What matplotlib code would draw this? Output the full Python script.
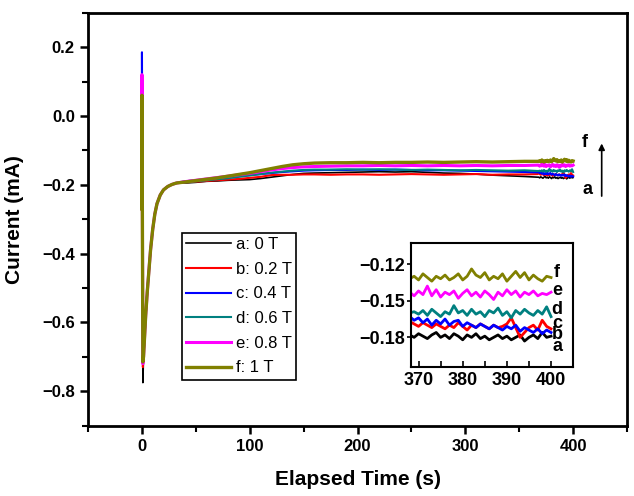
import matplotlib
matplotlib.use("Agg")
import matplotlib.pyplot as plt
from matplotlib.ticker import MultipleLocator

plt.rcParams['font.family'] = ['Liberation Sans', 'DejaVu Sans']
plt.rcParams['font.weight'] = 'bold'

labels = ['a: 0 T', 'b: 0.2 T', 'c: 0.4 T', 'd: 0.6 T', 'e: 0.8 T', 'f: 1 T']
letters = ['a', 'b', 'c', 'd', 'e', 'f']
colors = ['#000000', '#ff0000', '#0000ff', '#008080', '#ff00ff', '#808000']
widths = [1.2, 1.5, 1.5, 1.5, 2.2, 2.4]

# spike at switch-on
t_spike = [0, 0.05, 0.9]
i_start = -0.27
spike_top = [-0.02, 0.0, 0.185, 0.03, 0.12, 0.06]
spike_min = [-0.775, -0.73, -0.72, -0.72, -0.72, -0.715]

# fast recovery (all traces overlap)
t_early = [1.5, 2.5, 3.5, 5, 6.5, 8, 10, 12, 14, 17, 20, 24, 28, 32]
i_early = [-0.70, -0.64, -0.58, -0.51, -0.45, -0.39, -0.33, -0.285, -0.255,
           -0.23, -0.215, -0.205, -0.199, -0.195]

# slow part
t_late = [40, 50, 60, 70, 80, 90, 100, 110, 120, 130, 140, 150, 160, 175, 190,
          205, 220, 235, 250, 265, 280, 295, 310, 325, 340, 355, 367]
late_a = [-0.195, -0.193, -0.190, -0.189, -0.187, -0.186, -0.185, -0.182, -0.178, -0.174,
          -0.170, -0.167, -0.166, -0.165, -0.164, -0.163, -0.162, -0.163, -0.162, -0.164,
          -0.166, -0.167, -0.169, -0.172, -0.174, -0.176, -0.178]
late_b = [-0.193, -0.191, -0.189, -0.187, -0.185, -0.183, -0.180, -0.177, -0.172, -0.171,
          -0.171, -0.170, -0.170, -0.171, -0.170, -0.170, -0.171, -0.170, -0.169, -0.170,
          -0.171, -0.170, -0.169, -0.171, -0.170, -0.170, -0.169]
late_c = [-0.190, -0.187, -0.184, -0.181, -0.178, -0.175, -0.172, -0.169, -0.166, -0.163,
          -0.161, -0.159, -0.158, -0.157, -0.157, -0.156, -0.157, -0.156, -0.157, -0.158,
          -0.158, -0.159, -0.160, -0.161, -0.162, -0.163, -0.164]
late_d = [-0.193, -0.190, -0.187, -0.184, -0.181, -0.177, -0.173, -0.169, -0.165, -0.162,
          -0.159, -0.157, -0.156, -0.156, -0.155, -0.156, -0.155, -0.156, -0.157, -0.156,
          -0.157, -0.158, -0.157, -0.158, -0.159, -0.158, -0.160]
late_e = [-0.191, -0.187, -0.183, -0.179, -0.175, -0.171, -0.167, -0.162, -0.157, -0.153,
          -0.150, -0.148, -0.147, -0.146, -0.145, -0.145, -0.144, -0.145, -0.144, -0.145,
          -0.144, -0.145, -0.144, -0.145, -0.144, -0.144, -0.143]
late_f = [-0.192, -0.188, -0.184, -0.180, -0.175, -0.170, -0.165, -0.159, -0.153, -0.147,
          -0.142, -0.139, -0.137, -0.136, -0.136, -0.135, -0.136, -0.135, -0.135, -0.134,
          -0.135, -0.134, -0.133, -0.134, -0.133, -0.132, -0.132]

# last 32 s (inset)
t_end = list(range(368, 401))
end_a = [-0.178, -0.180, -0.177, -0.179, -0.181, -0.178, -0.176, -0.180, -0.178, -0.181, -0.177,
         -0.179, -0.182, -0.178, -0.180, -0.177, -0.181, -0.179, -0.182, -0.180, -0.178, -0.181,
         -0.179, -0.182, -0.180, -0.178, -0.183, -0.180, -0.178, -0.181, -0.176, -0.180, -0.179]
end_b = [-0.167, -0.169, -0.171, -0.168, -0.170, -0.172, -0.169, -0.171, -0.173, -0.170, -0.172,
         -0.168, -0.171, -0.174, -0.170, -0.172, -0.169, -0.171, -0.173, -0.170, -0.172, -0.171,
         -0.169, -0.164, -0.172, -0.180, -0.176, -0.172, -0.170, -0.174, -0.166, -0.171, -0.173]
end_c = [-0.163, -0.166, -0.164, -0.168, -0.165, -0.170, -0.166, -0.169, -0.165, -0.170, -0.167,
         -0.166, -0.171, -0.168, -0.170, -0.172, -0.169, -0.171, -0.173, -0.170, -0.172, -0.174,
         -0.171, -0.173, -0.170, -0.175, -0.172, -0.174, -0.176, -0.173, -0.177, -0.174, -0.176]
end_d = [-0.160, -0.159, -0.161, -0.158, -0.162, -0.157, -0.160, -0.163, -0.159, -0.161, -0.154,
         -0.160, -0.158, -0.162, -0.157, -0.161, -0.159, -0.163, -0.158, -0.160, -0.156, -0.162,
         -0.159, -0.164, -0.158, -0.161, -0.157, -0.160, -0.162, -0.158, -0.161, -0.155, -0.163]
end_e = [-0.143, -0.146, -0.142, -0.145, -0.138, -0.146, -0.141, -0.147, -0.143, -0.145, -0.142,
         -0.148, -0.144, -0.141, -0.146, -0.143, -0.147, -0.142, -0.145, -0.149, -0.143, -0.146,
         -0.141, -0.145, -0.142, -0.147, -0.143, -0.145, -0.142, -0.146, -0.144, -0.145, -0.143]
end_f = [-0.132, -0.130, -0.133, -0.128, -0.131, -0.134, -0.130, -0.132, -0.129, -0.133, -0.131,
         -0.128, -0.133, -0.130, -0.124, -0.129, -0.131, -0.127, -0.133, -0.130, -0.132, -0.128,
         -0.134, -0.130, -0.126, -0.131, -0.127, -0.133, -0.129, -0.132, -0.134, -0.130, -0.131]

late = [late_a, late_b, late_c, late_d, late_e, late_f]
end = [end_a, end_b, end_c, end_d, end_e, end_f]
letter_y = [-0.1875, -0.1775, -0.1685, -0.157, -0.1415, -0.1265]

fig = plt.figure(figsize=(6.34, 4.96), dpi=100)
ax = fig.add_axes([0.1388, 0.1419, 0.8502, 0.8325])

for k in range(6):
    t = t_spike + t_early + t_late + t_end
    y = [i_start, spike_top[k], spike_min[k]] + i_early + late[k] + end[k]
    ax.plot(t, y, color=colors[k], lw=widths[k], label=labels[k])

ax.set_xlim(-50, 450)
ax.set_ylim(-0.9, 0.3)
ax.xaxis.set_major_locator(MultipleLocator(100))
ax.xaxis.set_minor_locator(MultipleLocator(50))
ax.yaxis.set_major_locator(MultipleLocator(0.2))
ax.yaxis.set_minor_locator(MultipleLocator(0.1))
ax.set_xticks([0, 100, 200, 300, 400])
ax.tick_params(which='major', direction='out', length=6, width=1.8, labelsize=12)
ax.tick_params(which='minor', direction='out', length=4, width=1.5)
for s in ax.spines.values():
    s.set_linewidth(2)
ax.set_xlabel('Elapsed Time (s)', fontsize=15, fontweight='bold', labelpad=12)
ax.set_ylabel('Current (mA)', fontsize=15, fontweight='bold', labelpad=13)

leg = ax.legend(loc='upper left', bbox_to_anchor=(0.1744, 0.4665), borderaxespad=0,
                handlelength=2.7, handletextpad=0.3, labelspacing=0.58,
                fancybox=False, framealpha=1, borderpad=0.25,
                prop={'family': ['Liberation Sans'], 'weight': 'normal', 'size': 12})
leg.get_frame().set_edgecolor('black')
leg.get_frame().set_linewidth(1.2)

ax.text(411, -0.078, 'f', fontsize=13, fontweight='bold', ha='center', va='center')
ax.text(413, -0.214, 'a', fontsize=13, fontweight='bold', ha='center', va='center')
ax.annotate('', xy=(426.5, -0.072), xytext=(426.5, -0.241),
            arrowprops=dict(arrowstyle='-|>', color='black', lw=1.2, mutation_scale=9))

ins = fig.add_axes([0.6483, 0.2607, 0.2550, 0.2500])
for k in range(6):
    ins.plot(t_end, end[k], color=colors[k], lw=2.0)
    ins.text(401.4, letter_y[k], letters[k], fontsize=13, fontweight='bold',
             ha='center', va='center')
ins.set_xlim(368.3, 404.9)
ins.set_ylim(-0.204, -0.1025)
ins.set_xticks([370, 380, 390, 400])
ins.xaxis.set_minor_locator(MultipleLocator(5))
ins.set_yticks([-0.18, -0.15, -0.12])
ins.tick_params(axis='x', which='both', direction='in', labelsize=13, length=4, width=1.2)
ins.tick_params(axis='y', direction='out', labelsize=13, length=3, width=1.2, pad=1)
for s in ins.spines.values():
    s.set_linewidth(1.5)

fig.savefig('out.png', dpi=100)
